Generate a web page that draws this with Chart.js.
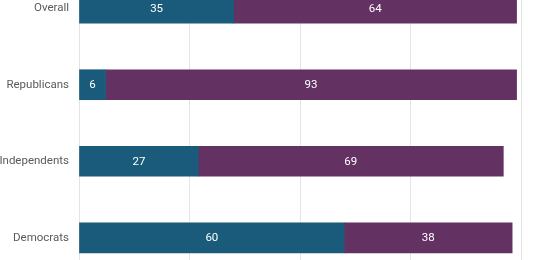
<!DOCTYPE html>
<html><head><meta charset="utf-8">
<script src="https://cdn.jsdelivr.net/npm/chart.js@4/dist/chart.umd.min.js"></script>
<style>
html,body{margin:0;padding:0;width:546px;height:260px;overflow:hidden;background:#fff;}
#c{position:absolute;left:0;top:-47px;}
</style></head>
<body>
<canvas id="c" width="546" height="340"></canvas>
<script>
const categories = ["Overall", "Republicans", "Independents", "Democrats"];
const seriesA = [35, 6, 27, 60];
const seriesB = [64, 93, 69, 38];
const xTicks = [0, 25, 50, 75, 100];

const labelPlugin = {
  id: 'barLabels',
  afterDatasetsDraw(chart) {
    const ctx = chart.ctx;
    ctx.save();
    ctx.fillStyle = '#ffffff';
    ctx.font = '11.5px Roboto';
    ctx.textAlign = 'center';
    ctx.textBaseline = 'middle';
    chart.data.datasets.forEach((ds, di) => {
      chart.getDatasetMeta(di).data.forEach((bar, i) => {
        const p = bar.getProps(['x', 'y', 'base'], true);
        const cx = (p.x + p.base) / 2;
        ctx.fillText(String(ds.data[i]), cx, p.y + 0.5);
      });
    });
    ctx.restore();
  }
};

new Chart(document.getElementById('c'), {
  type: 'bar',
  data: {
    labels: categories,
    datasets: [
      { data: seriesA, backgroundColor: '#1a5b7b', borderWidth: 0, barThickness: 30 },
      { data: seriesB, backgroundColor: '#633263', borderWidth: 0, barThickness: 30 }
    ]
  },
  options: {
    indexAxis: 'y',
    responsive: false,
    animation: false,
    layout: { padding: { left: 0, right: 25, top: 0, bottom: 0 } },
    plugins: { legend: { display: false }, tooltip: { enabled: false } },
    scales: {
      x: {
        stacked: true, min: 0, max: 100,
        afterBuildTicks(scale) { scale.ticks = xTicks.map(v => ({ value: v })); },
        ticks: { display: false },
        grid: { color: '#e4e4e4', drawTicks: false, lineWidth: 1 },
        border: { display: false }
      },
      y: {
        stacked: true,
        afterFit(scale) { scale.width = 79; },
        grid: { display: false, drawTicks: false },
        border: { display: true, color: '#e4e4e4' },
        ticks: { color: '#5a5a5a', font: { family: 'Roboto', size: 11.5 }, padding: 10 }
      }
    }
  },
  plugins: [labelPlugin]
});
</script>
</body></html>
